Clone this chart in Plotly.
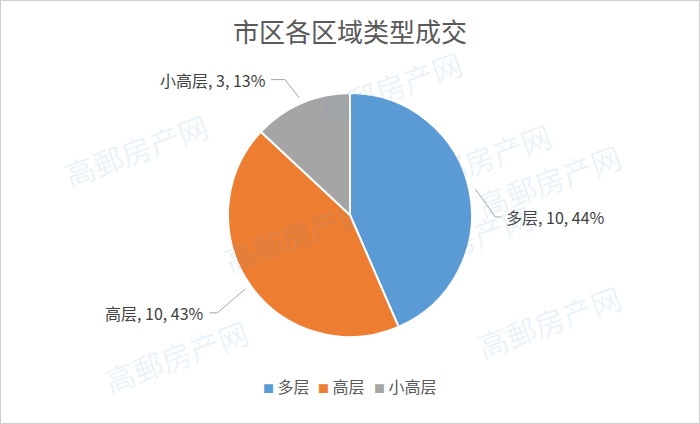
import math
import plotly.graph_objects as go

categories = ["多层", "高层", "小高层"]
values = [10, 10, 3]
pct_labels = ["44%", "43%", "13%"]
colors = ["#5B9BD5", "#ED7D31", "#A5A5A5"]
title_text = "市区各区域类型成交"
watermark = "高郵房产网"

W, H = 700, 424
cx, cy, R = 350, 215, 122  # pie centre / radius in px
FONT = "Noto Sans CJK SC"

fig = go.Figure()
fig.add_trace(go.Pie(
    labels=categories, values=values, sort=False, direction="clockwise",
    rotation=0, textinfo="none", hoverinfo="label+value",
    marker=dict(colors=colors, line=dict(color="white", width=2)),
    domain=dict(x=[(cx - R) / W, (cx + R) / W],
                y=[(H - cy - R) / H, (H - cy + R) / H]),
    showlegend=False,
))

# label placement derived from slice mid-angles
offsets = {  # (elbow dx, dy from edge, horizontal run, anchor side)
    0: (20, 28, 6, "left"),
    1: (-28, 24, -8, "right"),
    2: (-14, -18, -14, "right"),
}
total = sum(values)
cum = 0
shapes = []
annotations = []
def px(x): return x / W
def py(y): return 1 - y / H
for i, v in enumerate(values):
    mid = (cum + v / 2) / total * 2 * math.pi
    cum += v
    ex = cx + (R + 6) * math.sin(mid)
    ey = cy - (R + 6) * math.cos(mid)
    dx, dy, run, side = offsets[i]
    bx, by = ex + dx, ey + dy
    hx = bx + run
    shapes.append(dict(type="line", xref="paper", yref="paper",
                       x0=px(ex), y0=py(ey), x1=px(bx), y1=py(by),
                       line=dict(color="#A6A6A6", width=1)))
    shapes.append(dict(type="line", xref="paper", yref="paper",
                       x0=px(bx), y0=py(by), x1=px(hx), y1=py(by),
                       line=dict(color="#A6A6A6", width=1)))
    annotations.append(dict(
        xref="paper", yref="paper", x=px(hx + (3 if side == "left" else -3)), y=py(by),
        xanchor=side, yanchor="middle", showarrow=False,
        text=f"{categories[i]}, {values[i]}, {pct_labels[i]}",
        font=dict(size=16, color="#404040", family=FONT)))

# legend drawn as text items
legend_x = [261, 316, 372]
for n, c, lx in zip(categories, colors, legend_x):
    annotations.append(dict(xref="paper", yref="paper", x=px(lx), y=py(386),
                            xanchor="left", yanchor="middle", showarrow=False,
                            text=f'<span style="color:{c};font-size:11px">■</span> {n}',
                            font=dict(size=16, color="#595959", family=FONT)))

# faint watermark
wm_pos = [(390, 38), (560, 110), (55, 150), (215, 235), (630, 180),
          (460, 290), (95, 405), (630, 370)]
for (x, y) in wm_pos:
    annotations.append(dict(xref="paper", yref="paper", x=px(x), y=py(y),
                            text=watermark, showarrow=False, textangle=-20,
                            font=dict(size=30, color="rgba(91,155,213,0.13)",
                                      family=FONT)))

# outer frame
shapes.append(dict(type="rect", xref="paper", yref="paper", x0=0, y0=0, x1=1, y1=1,
                   line=dict(color="#D0D0D0", width=2)))

fig.update_layout(
    width=W, height=H,
    margin=dict(l=0, r=0, t=0, b=0, autoexpand=False),
    paper_bgcolor="white", plot_bgcolor="white",
    title=dict(text=title_text, x=0.5, xanchor="center", y=py(33), yanchor="middle",
               font=dict(size=26, color="#595959", family=FONT)),
    showlegend=False,
    shapes=shapes, annotations=annotations,
)

fig.write_html("out.html", config={"displayModeBar": False},
               post_script="document.body.style.margin='0';document.body.style.overflow='hidden';")
